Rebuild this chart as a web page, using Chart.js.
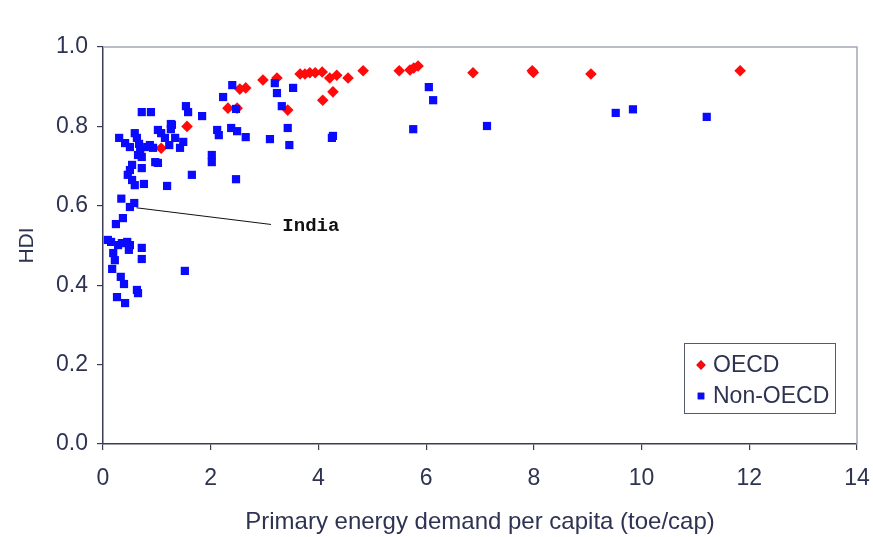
<!DOCTYPE html>
<html>
<head>
<meta charset="utf-8">
<script src="https://cdn.jsdelivr.net/npm/chart.js@4.4.1/dist/chart.umd.min.js"></script>
<style>
  html, body { margin: 0; padding: 0; background: #fff; }
  #wrap { width: 873px; height: 537px; }
</style>
</head>
<body>
<div id="wrap"><canvas id="hdi-chart"></canvas></div>
<script>
// HDI vs primary energy demand per capita

const oecdEnergy = [1.08, 1.56, 2.32, 2.49, 2.54, 2.65, 2.97, 3.23, 3.43, 3.66, 3.75, 3.84, 3.94, 4.07,
    4.21, 4.34, 4.55, 4.83, 4.08, 4.27, 5.50, 5.70, 5.77, 5.85, 6.87, 7.97, 7.99, 9.06, 11.83];
const oecdHdi = [0.745, 0.80, 0.846, 0.846, 0.894, 0.897, 0.917, 0.922, 0.841, 0.932, 0.932, 0.935, 0.935, 0.937,
    0.922, 0.929, 0.922, 0.94, 0.866, 0.887, 0.94, 0.942, 0.947, 0.952, 0.935, 0.94, 0.936, 0.932, 0.94];

const nonOecdEnergy = [6.05, 6.13, 5.76, 7.13, 9.52, 9.84, 11.21,
    2.40, 2.23, 2.47, 3.19, 3.23, 3.53, 3.32, 3.43, 3.46, 3.10, 2.12, 2.15, 2.38, 2.49, 2.65, 2.02, 2.02,
    4.27, 4.25, 2.47, 1.52, 1.54, 1.58, 1.84, 1.28, 1.65, 1.34, 1.49, 1.43,
    0.72, 0.89, 0.30, 0.59, 0.63, 1.02, 1.08, 1.26, 1.26, 1.15, 1.23, 0.41, 0.50, 0.67, 0.69, 0.82, 0.87,
    0.93, 0.65, 0.72, 0.97, 1.02, 0.54, 0.50, 0.72, 0.46, 0.54, 0.59, 0.76, 1.19,
    0.34, 0.50, 0.58, 0.37, 0.24, 0.15, 0.28, 0.35, 0.45, 0.50, 0.48, 0.72, 0.19, 0.22, 0.72, 0.17,
    0.33, 0.39, 0.63, 0.65, 0.26, 0.41, 0.09];
const nonOecdHdi = [0.899, 0.866, 0.793, 0.801, 0.834, 0.843, 0.824,
    0.904, 0.874, 0.844, 0.909, 0.884, 0.897, 0.851, 0.796, 0.753, 0.768, 0.791, 0.778, 0.796, 0.788, 0.773, 0.728, 0.710,
    0.776, 0.771, 0.667, 0.436, 0.851, 0.836, 0.826, 0.804, 0.678, 0.771, 0.761, 0.746,
    0.836, 0.836, 0.771, 0.783, 0.771, 0.791, 0.783, 0.806, 0.793, 0.771, 0.753, 0.758, 0.748, 0.756, 0.741, 0.748, 0.753,
    0.746, 0.728, 0.723, 0.710, 0.708, 0.703, 0.690, 0.695, 0.678, 0.665, 0.652, 0.655, 0.650,
    0.618, 0.597, 0.607, 0.569, 0.554, 0.509, 0.501, 0.506, 0.509, 0.501, 0.489, 0.494, 0.481, 0.463, 0.466, 0.441,
    0.421, 0.403, 0.388, 0.380, 0.370, 0.355, 0.514];

const xTicks = [0, 2, 4, 6, 8, 10, 12, 14];
const yTicks = [0.0, 0.2, 0.4, 0.6, 0.8, 1.0];

// India callout, in data units
const indiaPoint = [0.62, 0.595];
const indiaLineEnd = [3.12, 0.553];
const indiaLabelAt = [3.33, 0.549];

const inkColor = '#2e3352';
const axisFont = { family: "'Liberation Sans', Arial, sans-serif", size: 23 };

function toPoints(xs, ys) {
    return xs.map((x, i) => ({ x: x, y: ys[i] }));
}

const framePlugin = {
    id: 'frame',
    beforeDatasetsDraw(chart) {
        const { ctx, chartArea: a } = chart;
        ctx.save();
        ctx.strokeStyle = '#a3a6b8';
        ctx.lineWidth = 1.5;
        ctx.beginPath();
        ctx.moveTo(a.left, a.top);
        ctx.lineTo(a.right, a.top);
        ctx.lineTo(a.right, a.bottom);
        ctx.stroke();
        ctx.restore();
    }
};

const indiaPlugin = {
    id: 'india',
    afterDatasetsDraw(chart) {
        const { ctx, scales: { x, y } } = chart;
        ctx.save();
        ctx.strokeStyle = '#111';
        ctx.lineWidth = 1;
        ctx.beginPath();
        ctx.moveTo(x.getPixelForValue(indiaPoint[0]), y.getPixelForValue(indiaPoint[1]));
        ctx.lineTo(x.getPixelForValue(indiaLineEnd[0]), y.getPixelForValue(indiaLineEnd[1]));
        ctx.stroke();
        ctx.fillStyle = '#111';
        ctx.font = "bold 19px 'Liberation Mono', 'Courier New', monospace";
        ctx.textBaseline = 'middle';
        ctx.fillText('India', x.getPixelForValue(indiaLabelAt[0]), y.getPixelForValue(indiaLabelAt[1]));
        ctx.restore();
    }
};

const legendBoxPlugin = {
    id: 'legendBox',
    afterDraw(chart) {
        const { ctx, chartArea: a } = chart;
        const w = 151, h = 70;
        const left = a.right - 22 - w, top = a.bottom - 31 - h;
        ctx.save();
        ctx.strokeStyle = '#555a70';
        ctx.lineWidth = 1;
        ctx.strokeRect(left + 0.5, top + 0.5, w, h);
        ctx.font = "23px 'Liberation Sans', Arial, sans-serif";
        ctx.textBaseline = 'middle';
        const sets = [chart.data.datasets[0], chart.data.datasets[1]];
        sets.forEach((ds, i) => {
            const cy = top + 22 + i * 31;
            Chart.helpers.drawPoint(ctx, {
                pointStyle: ds.pointStyle,
                radius: ds.pointRadius * 0.8,
                borderWidth: 0
            }, left + 17, cy);
            ctx.fillStyle = ds.backgroundColor;
            ctx.fill();
            ctx.fillStyle = inkColor;
            ctx.fillText(ds.label, left + 29, cy + 1);
        });
        ctx.restore();
    }
};

new Chart(document.getElementById('hdi-chart').getContext('2d'), {
    type: 'scatter',
    data: {
        datasets: [{
            label: 'OECD',
            data: toPoints(oecdEnergy, oecdHdi),
            pointStyle: 'rectRot',
            pointRadius: 5.8,
            backgroundColor: '#ff0a0a',
            borderColor: '#ff0a0a',
            borderWidth: 0,
            order: 2
        }, {
            label: 'Non-OECD',
            data: toPoints(nonOecdEnergy, nonOecdHdi),
            pointStyle: 'rect',
            pointRadius: 5.8,
            backgroundColor: '#0a0aff',
            borderColor: '#0a0aff',
            borderWidth: 0,
            order: 1
        }]
    },
    options: {
        responsive: true,
        maintainAspectRatio: false,
        animation: false,
        events: [],
        layout: { padding: { left: 0, right: 16, top: 47, bottom: 0 } },
        plugins: {
            legend: { display: false },
            tooltip: { enabled: false }
        },
        scales: {
            x: {
                type: 'linear',
                min: 0,
                max: 14,
                afterBuildTicks: (scale) => { scale.ticks = xTicks.map(v => ({ value: v })); },
                afterFit: (scale) => { scale.height = 93; scale.paddingLeft = 0; scale.paddingRight = 0; },
                grid: { display: true, drawOnChartArea: false, drawTicks: true, tickLength: 6, color: '#3a3d55', lineWidth: 1.2 },
                border: { display: true, color: '#3a3d55', width: 1.5 },
                ticks: { color: inkColor, font: axisFont, padding: 15, maxRotation: 0 },
                title: {
                    display: true,
                    text: 'Primary energy demand per capita (toe/cap)',
                    color: inkColor,
                    font: { family: "'Liberation Sans', Arial, sans-serif", size: 24 },
                    padding: { top: 0, bottom: 0 }
                }
            },
            y: {
                type: 'linear',
                min: 0,
                max: 1,
                afterBuildTicks: (scale) => { scale.ticks = yTicks.map(v => ({ value: v })); },
                afterFit: (scale) => { scale.width = 103; scale.paddingTop = 0; scale.paddingBottom = 0; },
                grid: { display: true, drawOnChartArea: false, drawTicks: true, tickLength: 6, color: '#3a3d55', lineWidth: 1.2 },
                border: { display: true, color: '#3a3d55', width: 1.5 },
                ticks: { color: inkColor, font: axisFont, padding: 9, callback: (v) => Number(v).toFixed(1) },
                title: {
                    display: true,
                    text: 'HDI',
                    color: inkColor,
                    font: { family: "'Liberation Sans', Arial, sans-serif", size: 21 },
                    padding: { top: 15, bottom: 0 }
                }
            }
        }
    },
    plugins: [framePlugin, indiaPlugin, legendBoxPlugin]
});
</script>
</body>
</html>
